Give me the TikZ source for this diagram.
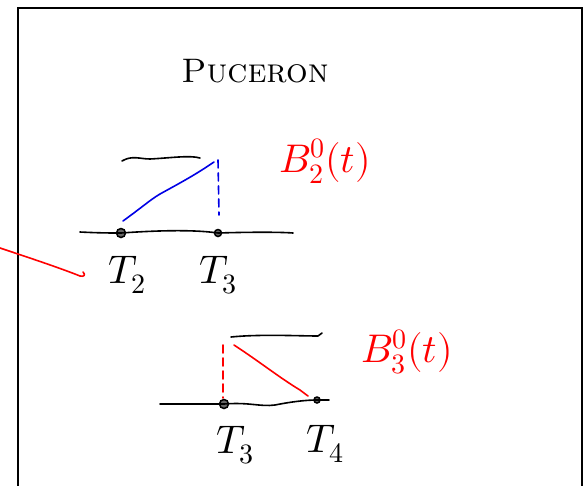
\documentclass[tikz,border=0pt]{standalone}
\usepackage{fontspec}
\usepackage{unicode-math}
\setmathfont{Latin Modern Math}
\begin{document}
\begin{tikzpicture}[x=1pt,y=-1pt,
  ink/.style={line width=1.6pt,line cap=round,line join=round},
  blueink/.style={ink,draw=blue!90!black},
  redink/.style={ink,draw=red},
  pt/.style={circle,draw,line width=1.5pt,fill=black!60,inner sep=0pt,minimum size=#1},
  lbl/.style={font=\fontsize{40}{42}\selectfont,inner sep=0pt},
  rlbl/.style={font=\fontsize{40}{42}\selectfont,text=red,inner sep=0pt}]
\useasboundingbox (0,0) rectangle (584,485);
% frame
\draw[line width=1.6pt] (18,486) -- (18,8) -- (582,8) -- (582,486);
% title
\node[font=\fontsize{34}{36}\selectfont,inner sep=0pt] (title) at (255,71) {\textsc{Puceron}};
% upper diagram
\node[pt=9pt] (a2) at (121,233) {};
\node[pt=7pt] (a3) at (218,233) {};
\draw[ink] (80,232) .. controls (100,233) and (110,233) .. (a2.center)
  .. controls (150,231) and (190,229) .. (a3.center)
  .. controls (250,232) and (280,232) .. (293,233);
\draw[ink] (122,161) .. controls (132,155) and (140,159) .. (150,159)
  .. controls (170,158) and (190,155) .. (200,158);
\coordinate (a3top) at (214,162);
\draw[blueink] (123,221) .. controls (145,205) and (150,200) .. (160,194)
  .. controls (180,183) and (195,175) .. (a3top);
\draw[blueink,dash pattern=on 8pt off 5pt] (218,160) -- (219,215);
\node[lbl] (t2) at (127,275) {$T_2$};
\node[lbl] (t3) at (218,275) {$T_3$};
\node[rlbl] (b2) at (325,161) {$B^0_2(t)$};
% lower diagram
\node[pt=9pt] (b3) at (224,404) {};
\node[pt=6pt] (b4) at (317,400) {};
\draw[ink] (160,404) .. controls (190,404) and (210,404) .. (b3.center)
  .. controls (250,402) and (260,407) .. (275,405)
  .. controls (290,402) and (305,400) .. (b4.center) -- (329,400);
\draw[ink] (231,337) .. controls (260,334) and (300,336) .. (318,336) -- (322,333);
\coordinate (b3top) at (234,345);
\draw[redink] (b3top) .. controls (260,362) and (280,378) .. (300,390) -- (308,396);
\draw[redink,dash pattern=on 8pt off 5pt] (223,345) -- (223,398);
\node[lbl] (t3b) at (235,445) {$T_3$};
\node[lbl] (t4) at (325,444) {$T_4$};
\node[rlbl] (b3l) at (407,352) {$B^0_3(t)$};
% red stroke from left
\draw[redink] (0,248) .. controls (30,258) and (60,268) .. (80,276)
  .. controls (84,277) and (86,275) .. (83,272);
\end{tikzpicture}
\end{document}
